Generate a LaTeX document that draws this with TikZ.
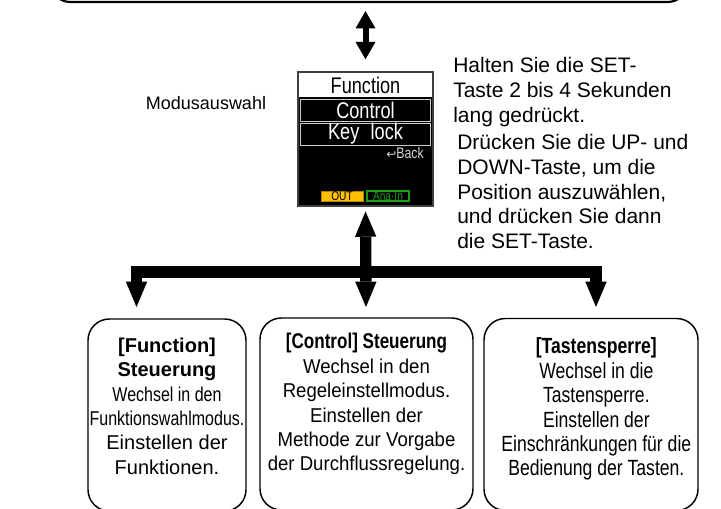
\documentclass[tikz,border=0pt]{standalone}
\usepackage{fontspec}
\setmainfont{Liberation Sans}
\newfontfamily\narrowfont{Liberation Sans}[FakeStretch=0.8]
\newfontfamily\slimfont{Liberation Sans}[FakeStretch=0.93]
\newfontfamily\symbolfont{DejaVu Sans}
\usetikzlibrary{arrows.meta,positioning}

\definecolor{outyellow}{HTML}{FFC000}
\definecolor{anagreen}{HTML}{18A018}

\tikzset{
  modebox/.style={draw, line width=1.1pt, rounded corners=16pt, minimum height=144pt, inner sep=0pt},
  boxtext/.style={align=center, inner sep=0pt, font=\fontsize{15}{18.3}\selectfont},
  sidetext/.style={anchor=north west, align=left, inner sep=0pt, font=\fontsize{15.75}{18.6}\selectfont},
  screenrow/.style={inner sep=0pt, minimum width=98pt, minimum height=16.5pt, font=\narrowfont\fontsize{17}{17}\selectfont},
  tag/.style={inner sep=0pt, minimum width=31.5pt, minimum height=7.5pt, font=\narrowfont\fontsize{9.5}{9.5}\selectfont},
  fatarrow/.style={line width=8.5pt, line join=miter,
    {Triangle[width=16pt,length=19pt,line width=0pt]}-{Triangle[width=16pt,length=19pt,line width=0pt]}},
  thinarrow/.style={line width=4.5pt,
    {Triangle[width=15pt,length=13pt,line width=0pt]}-{Triangle[width=15pt,length=13pt,line width=0pt]}}
}

\begin{document}
\begin{tikzpicture}[x=0.75pt, y=-0.75pt]
  \useasboundingbox (0,0) rectangle (721,509);
  \clip (0,0) rectangle (721,509);

  % panel above, only its lower edge is seen
  \node[draw, line width=1.6pt, rounded corners=15pt, minimum width=478pt, minimum height=63pt] (panel) at (369,-40) {};

  % the display
  \node[fill=black, draw=black!75, line width=1.1pt, inner sep=0pt, minimum width=101pt, minimum height=100.5pt] (screen) at (365.5,139) {};
  \node[screenrow, fill=white, minimum width=99.5pt, minimum height=18pt] (rowF) at (365.5,85) {Function};
  \node[screenrow, draw=black!20, line width=0.6pt, text=white] (rowC) at (365.5,110) {Control};
  \node[screenrow, draw=black!20, line width=0.6pt, text=white] (rowK) at (365.5,134) {Key\enspace lock};
  \node[anchor=east, inner sep=0pt, text=black!15, font=\narrowfont\fontsize{11.5}{11.5}\selectfont] (back) at (424,153) {{\symbolfont\fontsize{9}{9}\selectfont ↩}Back};
  \node[tag, fill=outyellow, draw=black!30!outyellow, line width=0.5pt] (out) at (342,196) {OUT};
  \node[tag, draw=anagreen, line width=0.8pt, text=anagreen] (ana) at (388,196) {Ana·In};

  \node[font=\fontsize{13.5}{13.5}\selectfont] (mode) at (206,103) {Modusauswahl};

  \node[sidetext] (hold) at (453,57) {Halten Sie die SET-\\Taste 2 bis 4 Sekunden\\lang gedrückt.};
  \node[sidetext] (press) at (457,134) {Drücken Sie die UP- und\\DOWN-Taste, um die\\Position auszuwählen,\\und drücken Sie dann\\die SET-Taste.};

  % the three modes
  \node[modebox, minimum width=118.5pt] (fbox) at (167,415) {};
  \node[modebox, minimum width=159.75pt] (cbox) at (366.5,414) {};
  \node[modebox, minimum width=160.5pt] (kbox) at (591,414.5) {};

  \node[boxtext, below=14.5pt of fbox.north] (ftext) {\textbf{[Function]}\\\textbf{Steuerung}\\{\narrowfont Wechsel in den}\\{\narrowfont Funktionswahlmodus.}\\Einstellen der\\Funktionen.};
  \node[boxtext, below=12pt of cbox.north] (ctext) {{\narrowfont\bfseries\fontsize{16}{16}\selectfont [Control] Steuerung}\\{\slimfont Wechsel in den}\\{\slimfont Regeleinstellmodus.}\\{\slimfont Einstellen der}\\{\slimfont Methode zur Vorgabe}\\{\slimfont der Durchflussregelung.}};
  \node[boxtext, below=15pt of kbox.north, xshift=4pt, font=\narrowfont\fontsize{16.5}{18.3}\selectfont] (ktext) {\textbf{[Tastensperre]}\\Wechsel in die\\Tastensperre.\\Einstellen der\\Einschränkungen für die\\Bedienung der Tasten.};

  % arrows
  \coordinate (bar) at (366,272);
  \coordinate (tipF) at (136.5,307);
  \coordinate (tipC) at (366,307);
  \coordinate (tipK) at (596,307);
  \draw[thinarrow, shorten <=6pt, shorten >=9pt] (screen.north |- panel.south) -- (screen.north);
  \draw[fatarrow] (tipF) -- (tipF |- bar) -- (tipK |- bar) -- (tipK);
  \draw[fatarrow, shorten >=3.5pt] (tipC) -- (screen.south);
\end{tikzpicture}
\end{document}
